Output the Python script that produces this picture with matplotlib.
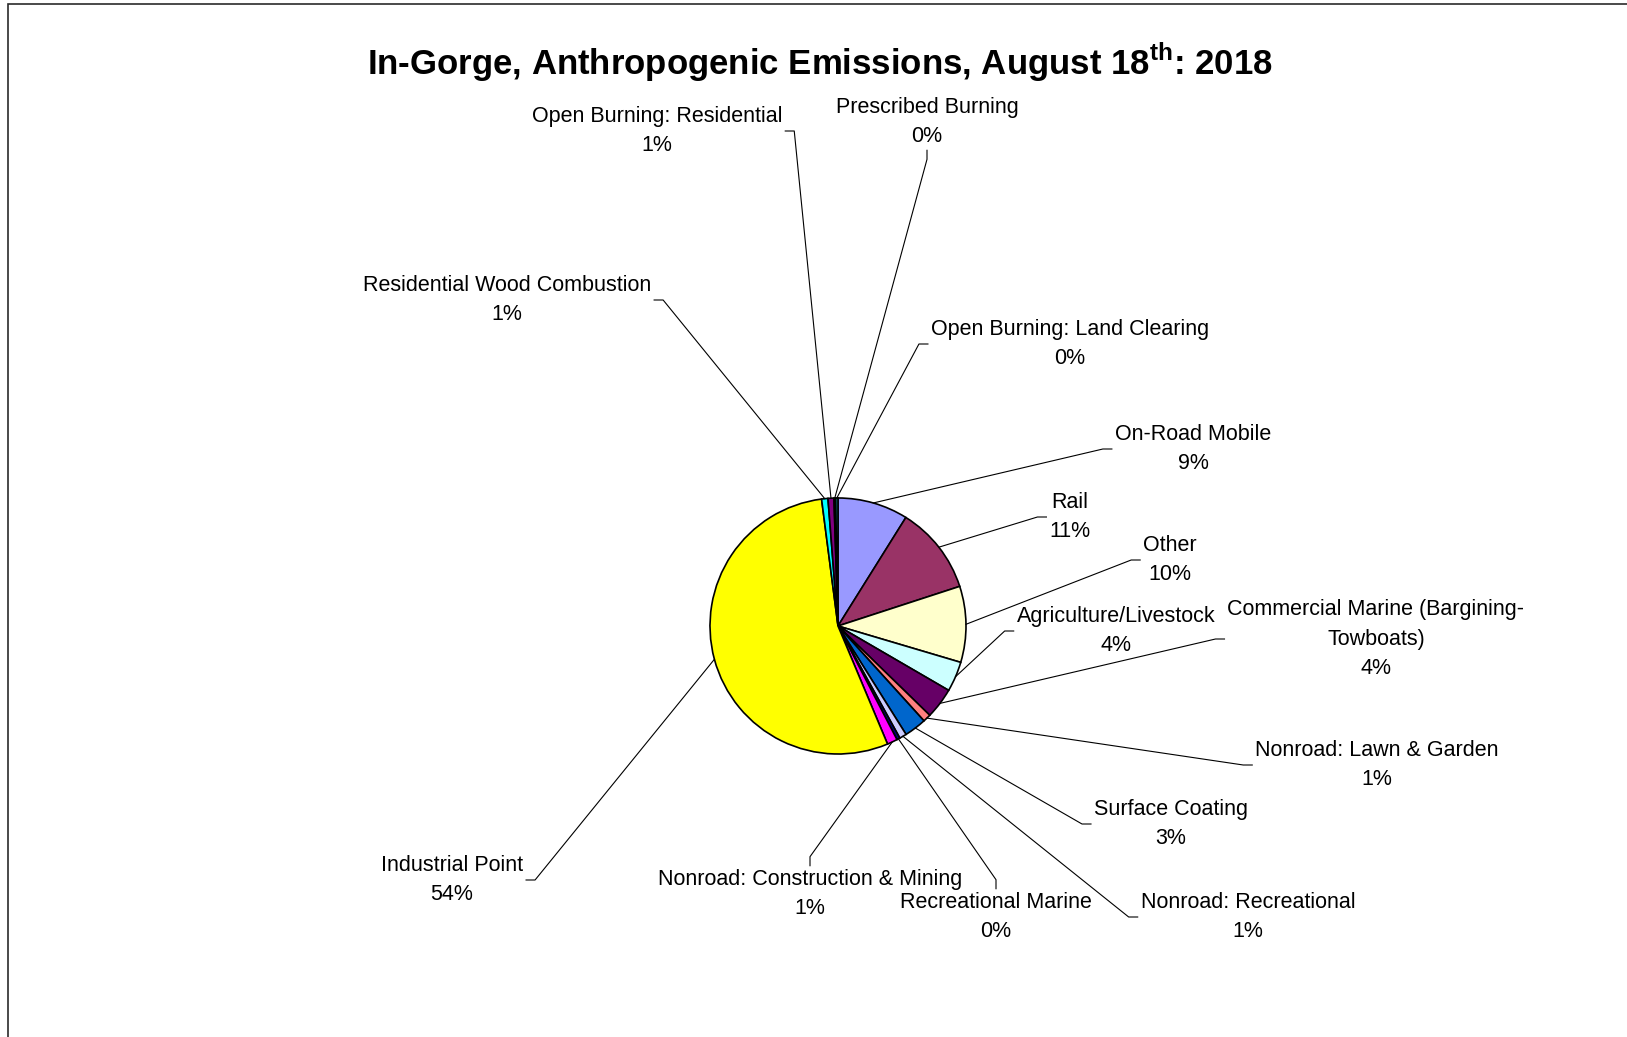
import matplotlib
matplotlib.use("Agg")
import matplotlib.pyplot as plt
from matplotlib.transforms import Bbox
import numpy as np

plt.rcParams['font.family'] = ['Liberation Sans', 'DejaVu Sans']
plt.rcParams['mathtext.fontset'] = 'custom'
plt.rcParams['mathtext.rm'] = 'Liberation Sans'
plt.rcParams['mathtext.bf'] = 'Liberation Sans:bold'

# emission share per source, clockwise from 12 o'clock
sources = [
    "On-Road Mobile",
    "Rail",
    "Other",
    "Agriculture/Livestock",
    "Commercial Marine (Bargining-\nTowboats)",
    "Nonroad: Lawn & Garden",
    "Surface Coating",
    "Nonroad: Recreational",
    "Recreational Marine",
    "Nonroad: Construction & Mining",
    "Industrial Point",
    "Residential Wood Combustion",
    "Open Burning: Residential",
    "Prescribed Burning",
    "Open Burning: Land Clearing",
]
shares = [8.9, 11.1, 9.6, 3.8, 3.9, 1.0, 2.8, 0.9, 0.4, 1.3, 54.3, 0.8, 0.75, 0.2, 0.3]
colors = ['#9999FF', '#993366', '#FFFFCC', '#CCFFFF', '#660066', '#FF8080',
          '#0066CC', '#CCCCFF', '#000080', '#FF00FF', '#FFFF00', '#00FFFF',
          '#800080', '#800000', '#008080']

# label block centres (pixels) and side where the leader line attaches
label_pos = [
    (1193, 447, 'left'), (1070, 515, 'left'), (1170, 558, 'left'),
    (1116, 629, 'left'), (1376, 637, 'left'), (1377, 763, 'left'),
    (1171, 822, 'left'), (1248, 915, 'left'), (996, 915, 'top'),
    (810, 892, 'top'), (452, 878, 'right'), (507, 298, 'right'),
    (657, 129, 'right'), (927, 120, 'bottom'), (1070, 342, 'left'),
]

W, H = 1627, 1037
CX, CY, R = 838, 626, 128
LS = 29.6      # line spacing of labels, px
FS = 15.5

fig = plt.figure(figsize=(W / 100, H / 100), dpi=100)
ax = fig.add_axes([0, 0, 1, 1])
wedges, _ = ax.pie(shares, colors=colors, startangle=-90, counterclock=True,
                   center=(CX, CY), radius=R,
                   wedgeprops=dict(edgecolor='black', linewidth=1.2))
ax.set_xlim(0, W)
ax.set_ylim(H, 0)
ax.set_aspect('auto')
ax.axis('off')

# frame (only top and left edges visible)
ax.plot([8, 8, W + 20], [H + 20, 4, 4], color='#2a2a2a', lw=1.2, clip_on=False,
        solid_joinstyle='miter')

ax.text(820, 62, r"In-Gorge, Anthropogenic Emissions, August 18$^{\mathbf{th}}$: 2018",
        ha='center', va='center', fontsize=25, fontweight='bold')

total = sum(shares)
blocks = []
for name, v, (x, y, side) in zip(sources, shares, label_pos):
    lines = name.split('\n') + [f"{round(v / total * 100):.0f}%"]
    n = len(lines)
    texts = []
    for k, ln in enumerate(lines):
        yy = y - (n - 1) / 2 * LS + k * LS + 7.5
        texts.append(ax.text(x, yy, ln, ha='center', va='baseline', fontsize=FS))
    blocks.append((texts, side))

fig.canvas.draw()
inv = ax.transData.inverted()
gap, tick = 3, 9
for (texts, side), w in zip(blocks, wedges):
    bb = Bbox.union([t.get_window_extent() for t in texts])
    (x0, y0), (x1, y1) = inv.transform([[bb.x0, bb.y0], [bb.x1, bb.y1]])
    left, right = min(x0, x1), max(x0, x1)
    top, bottom = min(y0, y1), max(y0, y1)
    cx, cy = (left + right) / 2, (top + bottom) / 2
    if side == 'left':
        p0, p1 = (left - gap, cy), (left - gap - tick, cy)
    elif side == 'right':
        p0, p1 = (right + gap, cy), (right + gap + tick, cy)
    elif side == 'top':
        p0, p1 = (cx, top - gap), (cx, top - gap - tick)
    else:
        p0, p1 = (cx, bottom + gap), (cx, bottom + gap + tick)
    mid = np.deg2rad((w.theta1 + w.theta2) / 2)
    p2 = (CX + R * np.cos(mid), CY + R * np.sin(mid))
    ax.plot([p0[0], p1[0], p2[0]], [p0[1], p1[1], p2[1]], color='black', lw=0.8)

fig.savefig('out.png', dpi=100)
